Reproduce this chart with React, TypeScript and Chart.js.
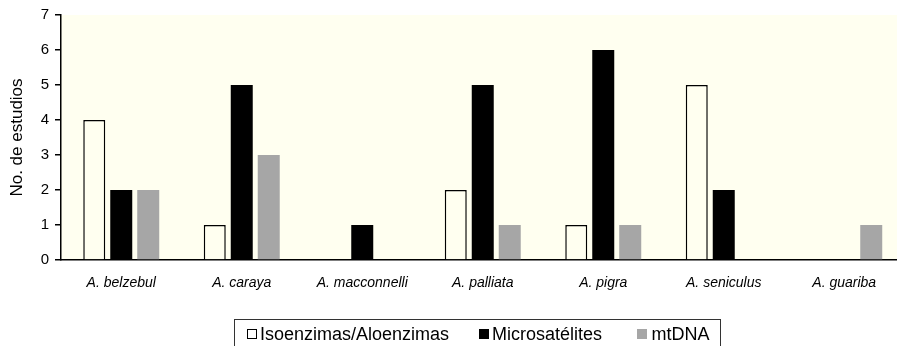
import React, { useEffect, useRef } from "react";
import { Chart, registerables } from "chart.js";

Chart.register(...registerables);

const categories = [
  "A. belzebul",
  "A. caraya",
  "A. macconnelli",
  "A. palliata",
  "A. pigra",
  "A. seniculus",
  "A. guariba",
];
const isoenzimas = [4, 1, 0, 2, 1, 5, 0];
const microsatelites = [2, 5, 1, 5, 6, 2, 0];
const mtDNA = [2, 3, 0, 1, 1, 0, 1];
const yTicks = [0, 1, 2, 3, 4, 5, 6, 7];

const FONT = '"Liberation Sans", Arial, sans-serif';
const CREAM = "#fffff0";
const GRAY = "#a6a6a6";

const bgPlugin = {
  id: "creamBg",
  beforeDraw(chart: any) {
    const { ctx, chartArea } = chart;
    ctx.save();
    ctx.fillStyle = CREAM;
    ctx.fillRect(chartArea.left, chartArea.top, chartArea.right - chartArea.left, chartArea.bottom - chartArea.top);
    ctx.restore();
  },
};

export default function App() {
  const ref = useRef<HTMLCanvasElement>(null);

  useEffect(() => {
    if (!ref.current) return;
    const bw = (w: number) => (c: any) => (c.raw === 0 ? 0 : w);
    const chart = new Chart(ref.current, {
      type: "bar",
      data: {
        labels: categories,
        datasets: [
          {
            label: "Isoenzimas/Aloenzimas",
            data: isoenzimas,
            backgroundColor: CREAM,
            borderColor: "#000",
            borderWidth: bw(1.5) as any,
            borderSkipped: "bottom",
          },
          {
            label: "Microsatélites",
            data: microsatelites,
            backgroundColor: "#000",
            borderWidth: 0,
          },
          {
            label: "mtDNA",
            data: mtDNA,
            backgroundColor: GRAY,
            borderWidth: 0,
          },
        ],
      },
      options: {
        responsive: false,
        animation: false,
        events: [],
        datasets: {
          bar: { categoryPercentage: 0.672, barPercentage: 0.815 },
        },
        layout: { padding: { left: 0, top: 15, right: 55.5, bottom: 0 } },
        plugins: {
          legend: { display: false },
          tooltip: { enabled: false },
        },
        scales: {
          x: {
            grid: { display: false, drawTicks: false },
            border: { display: true, color: "#000", width: 1.5 },
            ticks: {
              color: "#000",
              font: { family: FONT, size: 14, style: "italic" },
              padding: 15,
              maxRotation: 0,
              autoSkip: false,
            },
            afterFit(scale: any) {
              scale.height = 86;
            },
          },
          y: {
            min: 0,
            max: 7,
            afterBuildTicks(scale: any) {
              scale.ticks = yTicks.map((v) => ({ value: v }));
            },
            grid: { drawOnChartArea: false, drawTicks: true, tickLength: 6, color: "#000", lineWidth: 1.5 },
            border: { display: true, color: "#000", width: 1.5 },
            ticks: {
              color: "#000",
              font: { family: FONT, size: 15 },
              padding: 6,
            },
            title: {
              display: true,
              text: "No. de estudios",
              color: "#000",
              font: { family: FONT, size: 17 },
              padding: { top: 7, bottom: 0 },
            },
            afterFit(scale: any) {
              scale.width = 61;
            },
          },
        },
      },
      plugins: [bgPlugin],
    });
    return () => chart.destroy();
  }, []);

  const legendText: React.CSSProperties = {
    position: "absolute",
    fontFamily: FONT,
    fontSize: 18,
    lineHeight: "18px",
    top: 325,
    color: "#000",
    whiteSpace: "nowrap",
  };
  const sq = (left: number, bg: string, border: string): React.CSSProperties => ({
    position: "absolute",
    left,
    top: 329,
    width: 10,
    height: 10,
    boxSizing: "border-box",
    background: bg,
    border,
  });

  return (
    <div
      style={{
        position: "fixed",
        left: 0,
        top: 0,
        width: 897,
        height: 346,
        overflow: "hidden",
        background: "#fff",
      }}
    >
      <canvas ref={ref} width={960} height={346} style={{ position: "absolute", left: 0, top: 0, width: 960, height: 346 }} />
      <div
        style={{
          position: "absolute",
          left: 234,
          top: 319,
          width: 487,
          height: 40,
          boxSizing: "border-box",
          border: "1px solid #333",
        }}
      />
      <div style={sq(246.5, "#fff", "1px solid #000")} />
      <span style={{ ...legendText, left: 260 }}>Isoenzimas/Aloenzimas</span>
      <div style={sq(479, "#000", "none")} />
      <span style={{ ...legendText, left: 492 }}>Microsatélites</span>
      <div style={sq(636.5, GRAY, "none")} />
      <span style={{ ...legendText, left: 651.5 }}>mtDNA</span>
    </div>
  );
}
